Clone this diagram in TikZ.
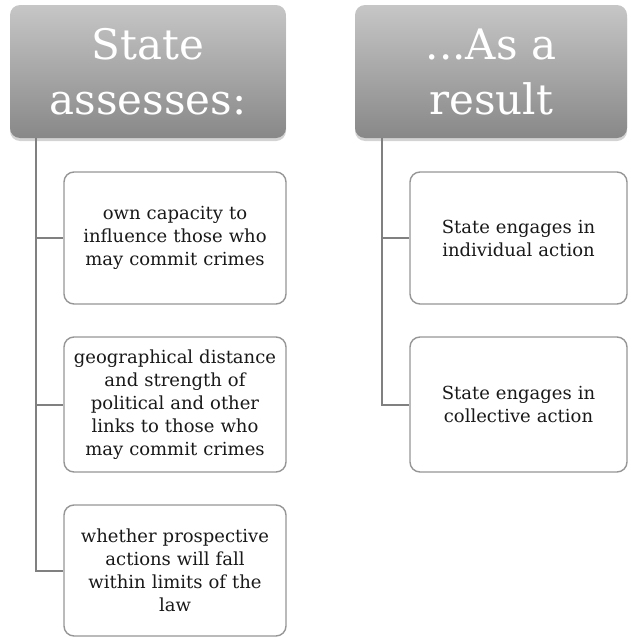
\documentclass[tikz,border=0pt]{standalone}
\usepackage{fontspec}
\setmainfont{DejaVu Serif}
\usetikzlibrary{shadows,calc}
\definecolor{linegray}{HTML}{808080}
\definecolor{bordergray}{HTML}{969696}
\definecolor{toptone}{HTML}{C6C6C6}
\definecolor{bottomtone}{HTML}{888888}
\tikzset{
  header/.style={rectangle, rounded corners=10pt, top color=toptone, bottom color=bottomtone,
    draw=none, text=white, align=center, font=\fontsize{42}{55}\selectfont,
    drop shadow={opacity=0.35, shadow xshift=0pt, shadow yshift=-3pt},
    inner sep=0pt},
  childbox/.style={rectangle, rounded corners=10pt, draw=bordergray, line width=1.4pt, fill=white,
    align=center, text=black!90, font=\fontsize{18}{23}\selectfont, inner sep=0pt},
  conn/.style={draw=linegray, line width=2pt}
}
\begin{document}
\begin{tikzpicture}[x=1pt,y=-1pt]
\useasboundingbox (0,0) rectangle (628,637);
\node[header, minimum width=276pt, minimum height=133pt] (h1) at (148,71.5) {State\\assesses:};
\node[header, minimum width=272pt, minimum height=133pt] (h2) at (491,71.5) {...As a\\result};

\node[childbox, minimum width=222pt, minimum height=132pt, text width=218pt] (c1) at (175,238) {own capacity to\\influence those who\\may commit crimes};
\node[childbox, minimum width=222pt, minimum height=135pt, text width=218pt] (c2) at (175,404.5) {geographical distance\\and strength of\\political and other\\links to those who\\may commit crimes};
\node[childbox, minimum width=222pt, minimum height=131pt, text width=218pt] (c3) at (175,570.5) {whether prospective\\actions will fall\\within limits of the\\law};

\node[childbox, minimum width=217pt, minimum height=132pt, text width=210pt] (r1) at (518.5,238) {State engages in\\individual action};
\node[childbox, minimum width=217pt, minimum height=135pt, text width=210pt] (r2) at (518.5,404.5) {State engages in\\collective action};

\coordinate (s1) at (36,138);
\coordinate (s2) at (382,138);
\draw[conn] (s1) |- (c3.west);
\draw[conn] (s1 |- c1.west) -- (c1.west);
\draw[conn] (s1 |- c2.west) -- (c2.west);
\draw[conn] (s2) |- (r2.west);
\draw[conn] (s2 |- r1.west) -- (r1.west);
\end{tikzpicture}
\end{document}
